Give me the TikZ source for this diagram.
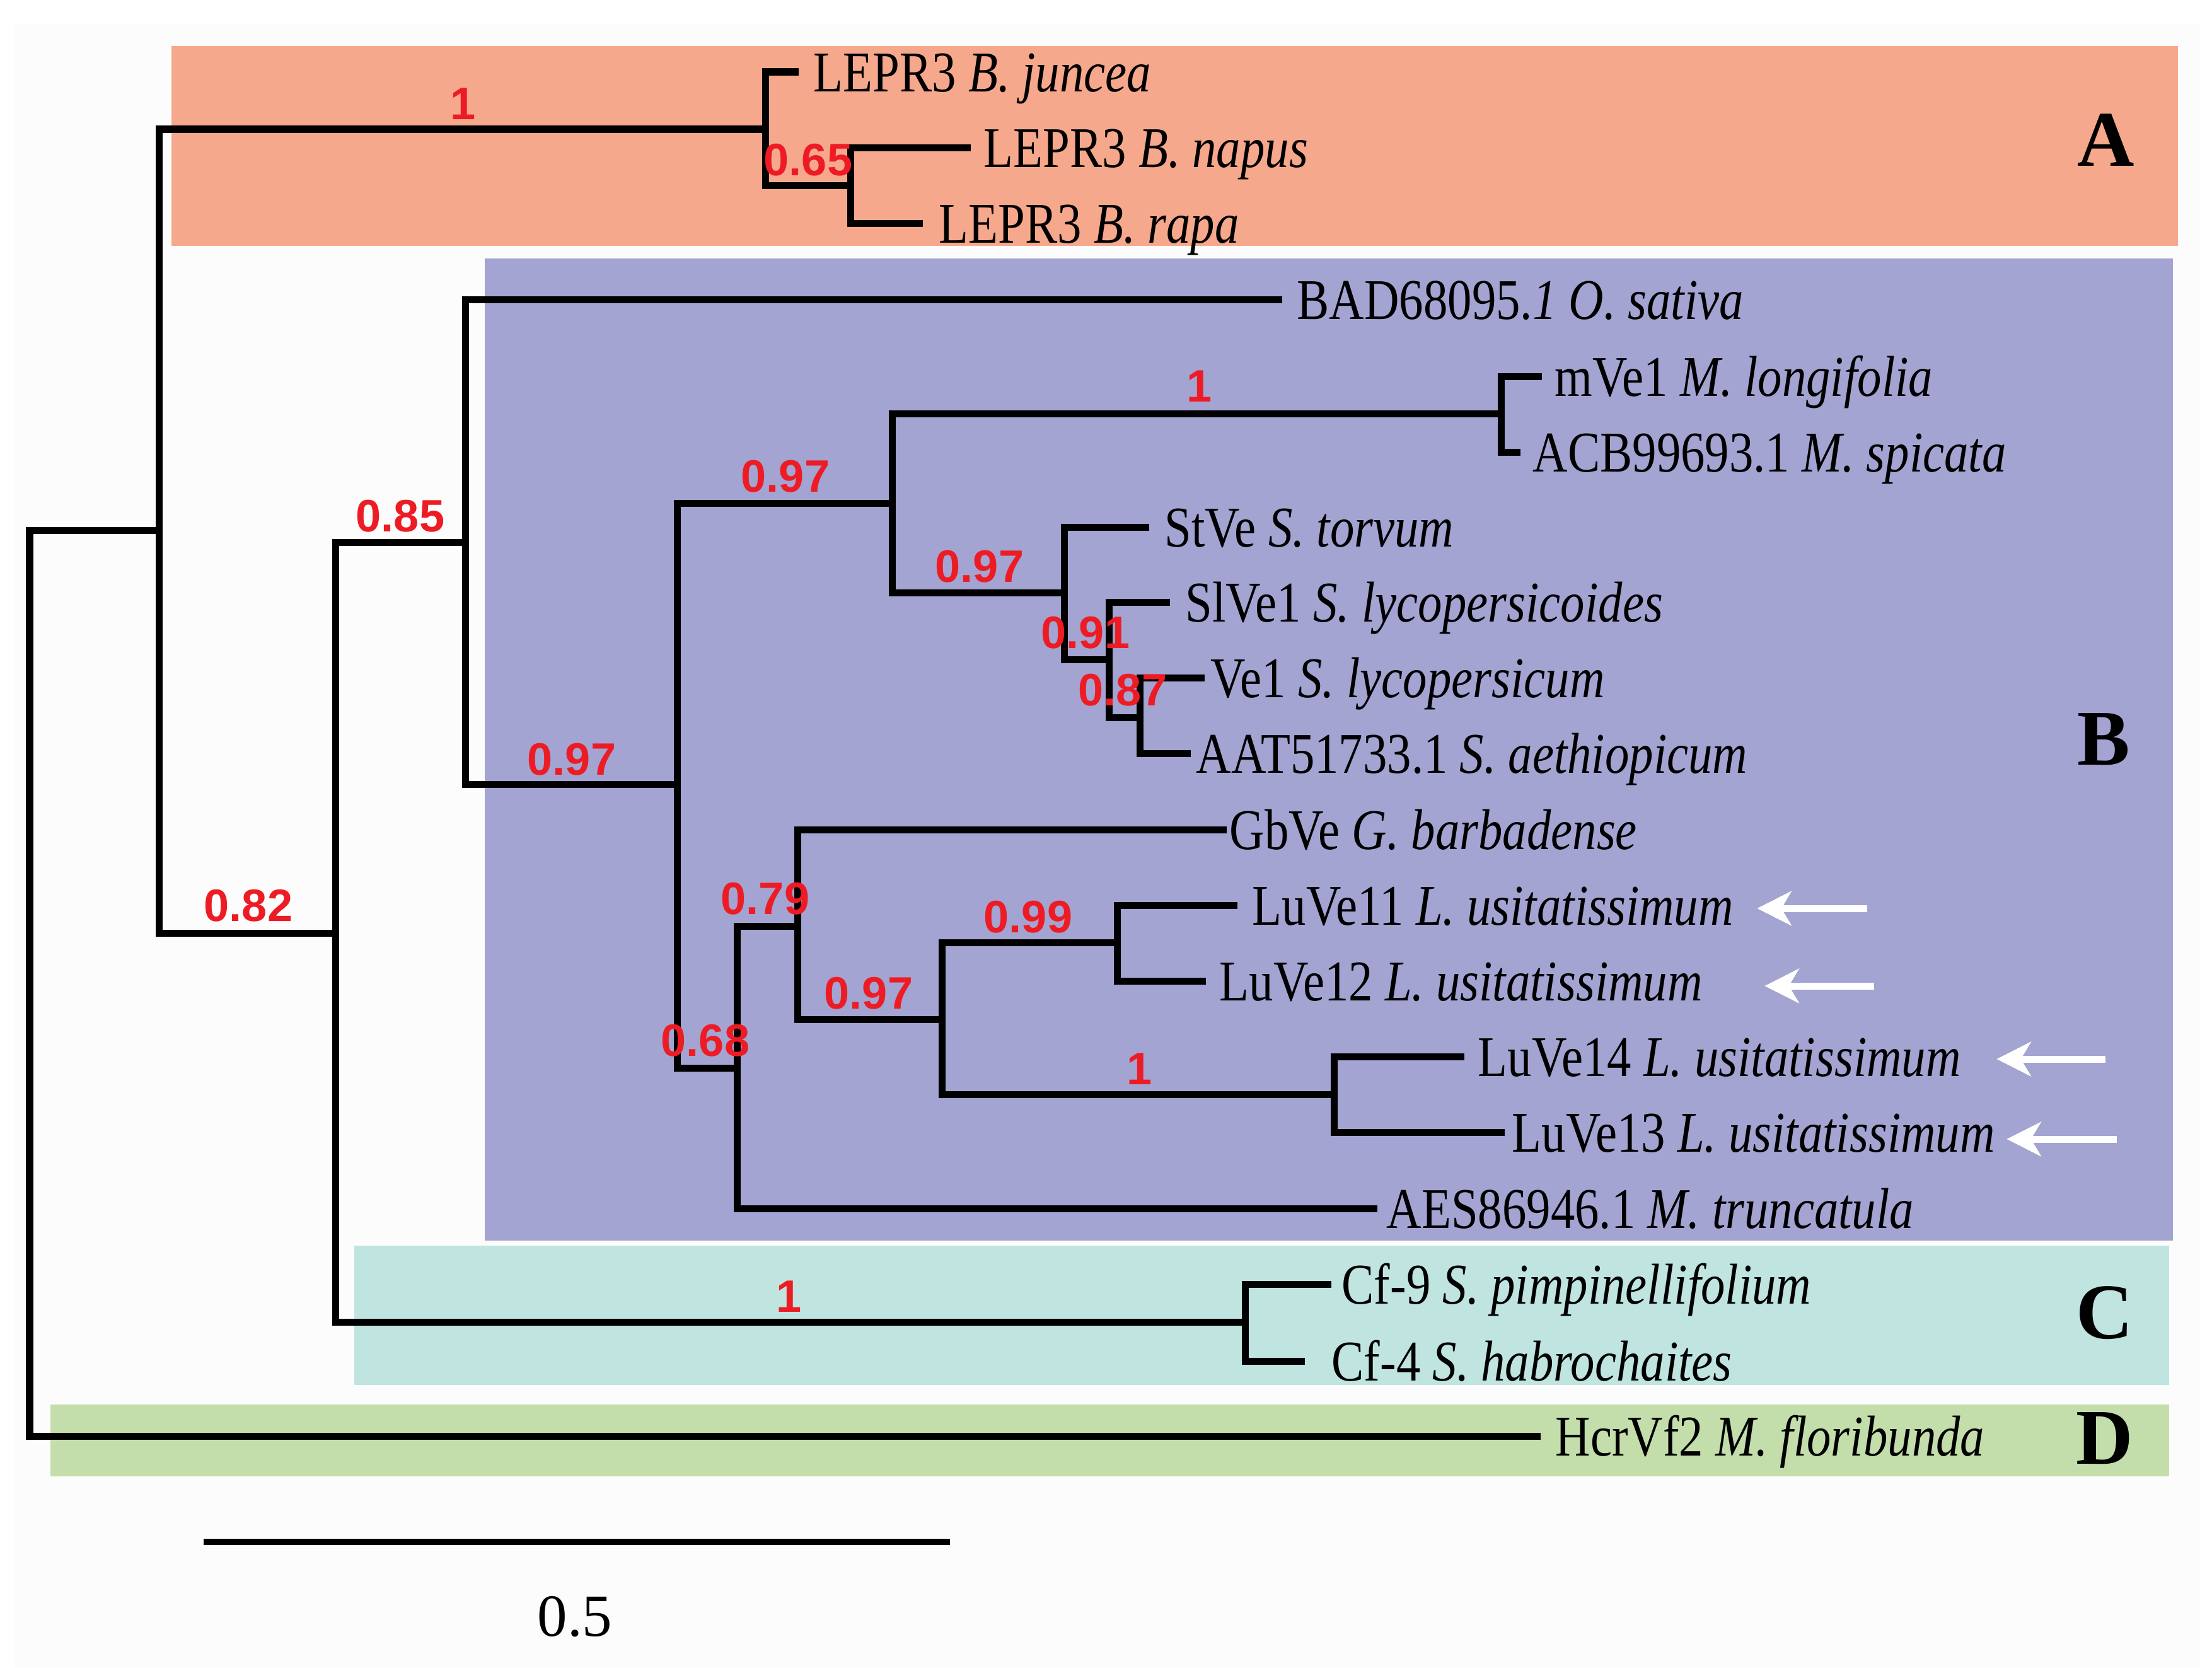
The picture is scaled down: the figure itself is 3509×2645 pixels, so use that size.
\documentclass[tikz,border=0pt]{standalone}
\usepackage{fontspec}
\setmainfont{Liberation Serif}
\newfontfamily\leaffont[FakeStretch=0.84]{Liberation Serif}
\newfontfamily\suppfont{Liberation Sans}
\usetikzlibrary{arrows.meta}
\definecolor{cladeA}{HTML}{F6A88C}
\definecolor{cladeB}{HTML}{A3A4D2}
\definecolor{cladeC}{HTML}{C0E4E0}
\definecolor{cladeD}{HTML}{C4DEAB}
\definecolor{suppred}{HTML}{ED1C24}
\definecolor{paper}{HTML}{FCFCFC}
\definecolor{shade}{HTML}{6E7099}
\begin{document}
\begin{tikzpicture}[x=0.01cm,y=-0.01cm,
  branch/.style={line width=0.11cm, black, line join=miter},
  leaf/.style={font=\leaffont\fontsize{26}{30}\selectfont, inner sep=0pt, anchor=base west},
  supp/.style={font=\suppfont\bfseries\fontsize{20.5}{24}\selectfont, text=suppred, inner sep=0pt},
  clade/.style={font=\bfseries\fontsize{35.6}{40}\selectfont, inner sep=0pt},
  marker/.style={white, line width=0.11cm, -{Stealth[length=0.55cm,width=0.55cm,inset=0.16cm]}},
  markershadow/.style={shade, opacity=0.55, line width=0.11cm, -{Stealth[length=0.55cm,width=0.55cm,inset=0.16cm]}},
  scalebar/.style={line width=0.10cm, black}
]
\useasboundingbox (0,0) rectangle (3509,2645);
\fill[white] (0,0) rectangle (3509,2645);
\fill[paper] (23,38) rectangle (3491,2645);

% clade boxes
\fill[cladeA] (272,73) rectangle (3455,390);
\fill[cladeB] (769,410) rectangle (3447,1968);
\fill[cladeC] (562,1976) rectangle (3441,2197);
\fill[cladeD] (80,2228) rectangle (3441,2342);

% internal nodes
\coordinate (R) at (47,1560);
\coordinate (NA) at (252,841);
\coordinate (NBr) at (1214,205);
\coordinate (N065) at (1349,294);
\coordinate (N082) at (532,1480);
\coordinate (N085) at (738,860);
\coordinate (N097a) at (1074,1244);
\coordinate (N097b) at (1415,798);
\coordinate (Nmint) at (2381,656);
\coordinate (N097c) at (1688,940);
\coordinate (N091) at (1759,1046);
\coordinate (N087) at (1808,1138);
\coordinate (N068) at (1169,1694);
\coordinate (N079) at (1265,1469);
\coordinate (N097d) at (1494,1617);
\coordinate (N099) at (1772,1495);
\coordinate (NLu) at (2116,1736);
\coordinate (NC) at (1975,2097);

% leaf tips
\coordinate (t1) at (1267,114);
\coordinate (t2) at (1540,234);
\coordinate (t3) at (1464,354);
\coordinate (t4) at (2034,475);
\coordinate (t5) at (2446,597);
\coordinate (t6) at (2412,717);
\coordinate (t7) at (1823,836);
\coordinate (t8) at (1856,955);
\coordinate (t9) at (1911,1075);
\coordinate (t10) at (1889,1195);
\coordinate (t11) at (1946,1316);
\coordinate (t12) at (1963,1436);
\coordinate (t13) at (1913,1556);
\coordinate (t14) at (2323,1676);
\coordinate (t15) at (2387,1796);
\coordinate (t16) at (2185,1917);
\coordinate (t17) at (2112,2037);
\coordinate (t18) at (2070,2159);
\coordinate (t19) at (2444,2278);

% branches
\draw[branch] (R) |- (NA);
\draw[branch] (R) |- (t19);
\draw[branch] (NA) |- (NBr);
\draw[branch] (NA) |- (N082);
\draw[branch] (NBr) |- (t1);
\draw[branch] (NBr) |- (N065);
\draw[branch] (N065) |- (t2);
\draw[branch] (N065) |- (t3);
\draw[branch] (N082) |- (N085);
\draw[branch] (N082) |- (NC);
\draw[branch] (N085) |- (t4);
\draw[branch] (N085) |- (N097a);
\draw[branch] (N097a) |- (N097b);
\draw[branch] (N097a) |- (N068);
\draw[branch] (N097b) |- (Nmint);
\draw[branch] (N097b) |- (N097c);
\draw[branch] (Nmint) |- (t5);
\draw[branch] (Nmint) |- (t6);
\draw[branch] (N097c) |- (t7);
\draw[branch] (N097c) |- (N091);
\draw[branch] (N091) |- (t8);
\draw[branch] (N091) |- (N087);
\draw[branch] (N087) |- (t9);
\draw[branch] (N087) |- (t10);
\draw[branch] (N068) |- (N079);
\draw[branch] (N068) |- (t16);
\draw[branch] (N079) |- (t11);
\draw[branch] (N079) |- (N097d);
\draw[branch] (N097d) |- (N099);
\draw[branch] (N097d) |- (NLu);
\draw[branch] (N099) |- (t12);
\draw[branch] (N099) |- (t13);
\draw[branch] (NLu) |- (t14);
\draw[branch] (NLu) |- (t15);
\draw[branch] (NC) |- (t17);
\draw[branch] (NC) |- (t18);

% leaf labels
\node[leaf] (l1) at (1290,145) {LEPR3 \textit{B. juncea}};
\node[leaf] (l2) at (1560,265) {LEPR3 \textit{B. napus}};
\node[leaf] (l3) at (1489,385) {LEPR3 \textit{B. rapa}};
\node[leaf] (l4) at (2057,506) {BAD68095.\textit{1 O. sativa}};
\node[leaf] (l5) at (2466,628) {mVe1 \textit{M. longifolia}};
\node[leaf] (l6) at (2431,748) {ACB99693.1 \textit{M. spicata}};
\node[leaf] (l7) at (1847,867) {StVe \textit{S. torvum}};
\node[leaf] (l8) at (1880,986) {SlVe1 \textit{S. lycopersicoides}};
\node[leaf] (l9) at (1920,1106) {Ve1 \textit{S. lycopersicum}};
\node[leaf] (l10) at (1897,1226) {AAT51733.1 \textit{S. aethiopicum}};
\node[leaf] (l11) at (1950,1347) {GbVe \textit{G. barbadense}};
\node[leaf] (l12) at (1986,1467) {LuVe11 \textit{L. usitatissimum}};
\node[leaf] (l13) at (1934,1587) {LuVe12 \textit{L. usitatissimum}};
\node[leaf] (l14) at (2344,1707) {LuVe14 \textit{L. usitatissimum}};
\node[leaf] (l15) at (2398,1827) {LuVe13 \textit{L. usitatissimum}};
\node[leaf] (l16) at (2199,1948) {AES86946.1 \textit{M. truncatula}};
\node[leaf] (l17) at (2128,2068) {Cf-9 \textit{S. pimpinellifolium}};
\node[leaf] (l18) at (2112,2190) {Cf-4 \textit{S. habrochaites}};
\node[leaf] (l19) at (2467,2309) {HcrVf2 \textit{M. floribunda}};

% support values
\node[supp] (s1) at (735,165) {1};
\node[supp] (s2) at (1282,254) {0.65};
\node[supp] (s3) at (635,819) {0.85};
\node[supp] (s4) at (394,1437) {0.82};
\node[supp] (s5) at (907,1205) {0.97};
\node[supp] (s6) at (1246,756) {0.97};
\node[supp] (s7) at (1903,613) {1};
\node[supp] (s8) at (1554,899) {0.97};
\node[supp] (s9) at (1722,1004) {0.91};
\node[supp] (s10) at (1781,1095) {0.87};
\node[supp] (s11) at (1214,1426) {0.79};
\node[supp] (s12) at (1119,1651) {0.68};
\node[supp] (s13) at (1378,1576) {0.97};
\node[supp] (s14) at (1631,1455) {0.99};
\node[supp] (s15) at (1808,1696) {1};
\node[supp] (s16) at (1252,2057) {1};

% clade letters
\node[clade] (cA) at (3341,222) {A};
\node[clade] (cB) at (3337,1173) {B};
\node[clade] (cC) at (3339,2083) {C};
\node[clade] (cD) at (3339,2282) {D};

% arrows
\coordinate (a1t) at (2962,1441); \coordinate (a1h) at (2787,1441);
\coordinate (a2t) at (2973,1564); \coordinate (a2h) at (2799,1564);
\coordinate (a3t) at (3340,1680); \coordinate (a3h) at (3167,1680);
\coordinate (a4t) at (3358,1807); \coordinate (a4h) at (3183,1807);
\begin{scope}[shift={(4,5)}]
\draw[markershadow] (a1t) -- (a1h);
\draw[markershadow] (a2t) -- (a2h);
\draw[markershadow] (a3t) -- (a3h);
\draw[markershadow] (a4t) -- (a4h);
\end{scope}
\draw[marker] (a1t) -- (a1h);
\draw[marker] (a2t) -- (a2h);
\draw[marker] (a3t) -- (a3h);
\draw[marker] (a4t) -- (a4h);

% scale bar
\coordinate (sb1) at (323,2446);
\coordinate (sb2) at (1507,2446);
\draw[scalebar] (sb1) -- (sb2);
\node[font=\fontsize{27}{30}\selectfont, inner sep=0pt] (sbl) at (912,2565) {0.5};
\end{tikzpicture}
\end{document}
